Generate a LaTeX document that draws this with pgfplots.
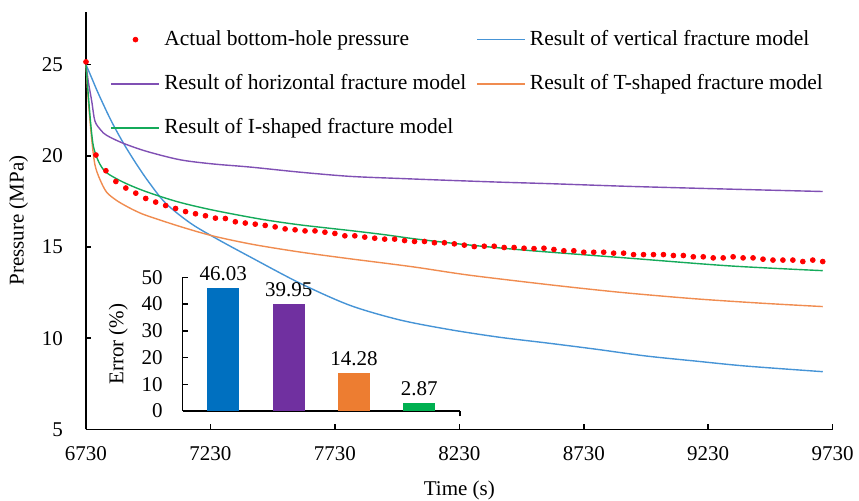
\documentclass[border=0pt]{standalone}
\usepackage{fontspec}
\setmainfont{Liberation Serif}
\usepackage{pgfplots}
\pgfplotsset{compat=1.18}
\usepackage{pgfplotstable}

\definecolor{cvert}{RGB}{70,148,214}
\definecolor{chori}{RGB}{128,80,180}
\definecolor{ctsh}{RGB}{240,140,80}
\definecolor{cish}{RGB}{20,170,90}
\definecolor{bblue}{RGB}{0,112,192}
\definecolor{bpurple}{RGB}{112,48,160}
\definecolor{borange}{RGB}{237,125,49}
\definecolor{bgreen}{RGB}{0,176,80}

% measured bottom-hole pressure, every 40 s
\pgfplotstableread{
t p
6730 25.15
6770 20.04
6810 19.18
6850 18.59
6890 18.23
6930 17.95
6970 17.66
7010 17.46
7050 17.27
7090 17.11
7130 16.94
7170 16.82
7210 16.71
7250 16.58
7290 16.56
7330 16.38
7370 16.31
7410 16.25
7450 16.18
7490 16.10
7530 15.99
7570 15.94
7610 15.88
7650 15.88
7690 15.81
7730 15.74
7770 15.61
7810 15.61
7850 15.54
7890 15.48
7930 15.43
7970 15.43
8010 15.35
8050 15.30
8090 15.30
8130 15.23
8170 15.23
8210 15.17
8250 15.10
8290 15.02
8330 15.04
8370 15.04
8410 14.97
8450 14.97
8490 14.93
8530 14.91
8570 14.93
8610 14.86
8650 14.79
8690 14.79
8730 14.71
8770 14.71
8810 14.71
8850 14.66
8890 14.66
8930 14.58
8970 14.58
9010 14.58
9050 14.58
9090 14.53
9130 14.53
9170 14.46
9210 14.46
9250 14.40
9290 14.40
9330 14.46
9370 14.40
9410 14.40
9450 14.33
9490 14.28
9530 14.28
9570 14.28
9610 14.20
9650 14.28
9690 14.20
}\actual

\pgfplotstableread{
t p
6730 25.0
6755 24.2
6780 23.4
6830 21.95
6880 20.7
6930 19.6
6980 18.6
7050 17.4
7150 16.3
7255 15.45
7390 14.45
7590 13.01
7790 11.8
7990 11.0
8190 10.47
8390 10.05
8590 9.72
8780 9.39
8980 9.02
9180 8.74
9380 8.47
9690 8.16
}\vertical

\pgfplotstableread{
t p
6730 25.0
6740 24.0
6753 23.0
6766 21.9
6790 21.4
6813 21.12
6877 20.70
6974 20.24
7108 19.78
7241 19.55
7390 19.38
7590 19.10
7791 18.87
8000 18.75
8192 18.65
8400 18.55
8594 18.47
8916 18.32
9317 18.17
9690 18.04
}\horizontal

\pgfplotstableread{
t p
6730 25.0
6739 23.1
6753 20.9
6766 19.5
6786 18.7
6813 18.0
6853 17.55
6890 17.25
6930 16.97
6974 16.72
7108 16.12
7241 15.6
7400 15.14
7590 14.72
7791 14.35
7925 14.12
8059 13.88
8260 13.47
8514 13.05
8715 12.74
8916 12.46
9184 12.15
9451 11.91
9690 11.73
}\tshaped

\pgfplotstableread{
t p
6730 25.0
6740 23.2
6750 21.6
6760 20.5
6780 19.7
6810 19.1
6880 18.55
6970 18.04
7100 17.47
7240 17.02
7430 16.53
7590 16.21
7791 15.9
7925 15.68
8059 15.43
8260 15.12
8514 14.80
8916 14.38
9317 13.96
9690 13.70
}\ishaped

\pgfplotsset{
  /pgf/number format/assume math mode=true,
  every axis/.append style={
    scale only axis,
    axis lines=left,
    axis line style={-, black, line width=0.75pt},
    tick align=inside,
    major tick length=2.7pt,
    tick style={black, line width=0.75pt},
    tick label style={font=\fontsize{10.5}{12}\selectfont},
    label style={font=\fontsize{10.5}{12}\selectfont},
  },
  linelegend/.style={legend image code/.code={\draw[##1, line width=0.8pt] (0pt,0pt) -- (24pt,0pt);}},
  dotlegend/.style={legend image code/.code={\draw[##1] plot coordinates {(12pt,0pt)};}},
}

\begin{document}
\begin{tikzpicture}
\begin{axis}[
  at={(0,0)}, anchor=south west,
  width=373.35pt, height=208.8pt,
  xmin=6730, xmax=9730, ymin=5, ymax=27.9,
  xtick={6730,7230,7730,8230,8730,9230,9730},
  xticklabels={6730,7230,7730,8230,8730,9230,9730},
  ytick={5,10,15,20,25},
  xticklabel shift=5pt, yticklabel shift=8pt,
  xlabel={Time (s)}, ylabel={Pressure (MPa)},
  xlabel style={yshift=-3.5pt},
  clip=false,
  legend columns=2,
  legend cell align=left,
  legend style={draw=none, fill=none, at={(0.0245,0.975)}, anchor=north west,
    font=\fontsize{10.75}{12}\selectfont, row sep=9pt,
    /tikz/every even column/.append style={column sep=3pt}},
]
\addplot[only marks, mark=*, mark size=1.2pt, red, mark options={fill=red, draw=red}, dotlegend]
  table[x=t, y=p] {\actual};
\addlegendentry{Actual bottom-hole pressure}
\addplot[cvert, line width=0.7pt, smooth, linelegend] table[x=t, y=p] {\vertical};
\addlegendentry{Result of vertical fracture model}
\addplot[chori, line width=0.7pt, smooth, linelegend] table[x=t, y=p] {\horizontal};
\addlegendentry{Result of horizontal fracture model}
\addplot[ctsh, line width=0.7pt, smooth, linelegend] table[x=t, y=p] {\tshaped};
\addlegendentry{Result of T-shaped fracture model}
\addplot[cish, line width=0.7pt, smooth, linelegend] table[x=t, y=p] {\ishaped};
\addlegendentry{Result of I-shaped fracture model}
\end{axis}

\begin{axis}[
  at={(48.35pt,9.15pt)}, anchor=south west,
  width=138.65pt, height=66.85pt,
  xmin=-0.622, xmax=3.623, ymin=0, ymax=50,
  ytick={0,10,20,30,40,50},
  xtick=\empty,
  extra x ticks={3.623}, extra x tick labels={},
  yticklabel shift=6.5pt,
  ylabel={Error (\%)},
  ybar, bar shift=0pt, bar width=16pt,
  nodes near coords={\pgfmathprintnumber[fixed, fixed zerofill, precision=2]{\pgfplotspointmeta}},
  every node near coord/.append style={font=\fontsize{10.5}{12}\selectfont, black},
]
\addplot[draw=none, fill=bblue] coordinates {(0,46.03)};
\addplot[draw=none, fill=bpurple] coordinates {(1,39.95)};
\addplot[draw=none, fill=borange] coordinates {(2,14.28)};
\addplot[draw=none, fill=bgreen] coordinates {(3,2.87)};
\end{axis}

\pgfresetboundingbox
\path[use as bounding box] (-43pt,-35.35pt) rectangle (386.5pt,214.65pt);
\end{tikzpicture}
\end{document}
